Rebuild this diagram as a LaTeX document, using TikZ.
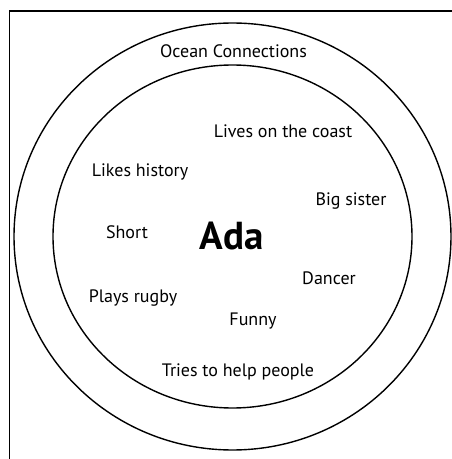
\documentclass[tikz,border=0pt]{standalone}
\usepackage{fontspec}
\setmainfont{PT Sans}
\begin{document}
\begin{tikzpicture}[x=1pt,y=1pt,
  lbl/.style={font=\fontsize{18}{21}\selectfont, inner sep=0pt, anchor=center},
  ring/.style={draw=black, line width=1.4pt}]
\useasboundingbox (0,0) rectangle (452,459);
\draw[line width=1.3pt] (9.5,0) -- (9.5,448) -- (453,448);
\draw[ring] (232.5,222.5) ellipse [x radius=218.5, y radius=213.5];
\draw[ring] (232.5,222.5) ellipse [x radius=179.5, y radius=171.5];
\node[lbl] (ocean) at (233.5,408) {Ocean Connections};
\node[lbl] (coast) at (283,328) {Lives on the coast};
\node[lbl] (hist) at (140,287) {Likes history};
\node[lbl] (sis) at (351,258) {Big sister};
\node[lbl] (short) at (127,227) {Short};
\node[font=\fontsize{39}{44}\selectfont\bfseries, inner sep=0pt] (ada) at (231.5,223) {Ada};
\node[lbl] (dancer) at (329,181) {Dancer};
\node[lbl] (rugby) at (133,161) {Plays rugby};
\node[lbl] (funny) at (253,138) {Funny};
\node[lbl] (help) at (238,87) {Tries to help people};
\end{tikzpicture}
\end{document}
